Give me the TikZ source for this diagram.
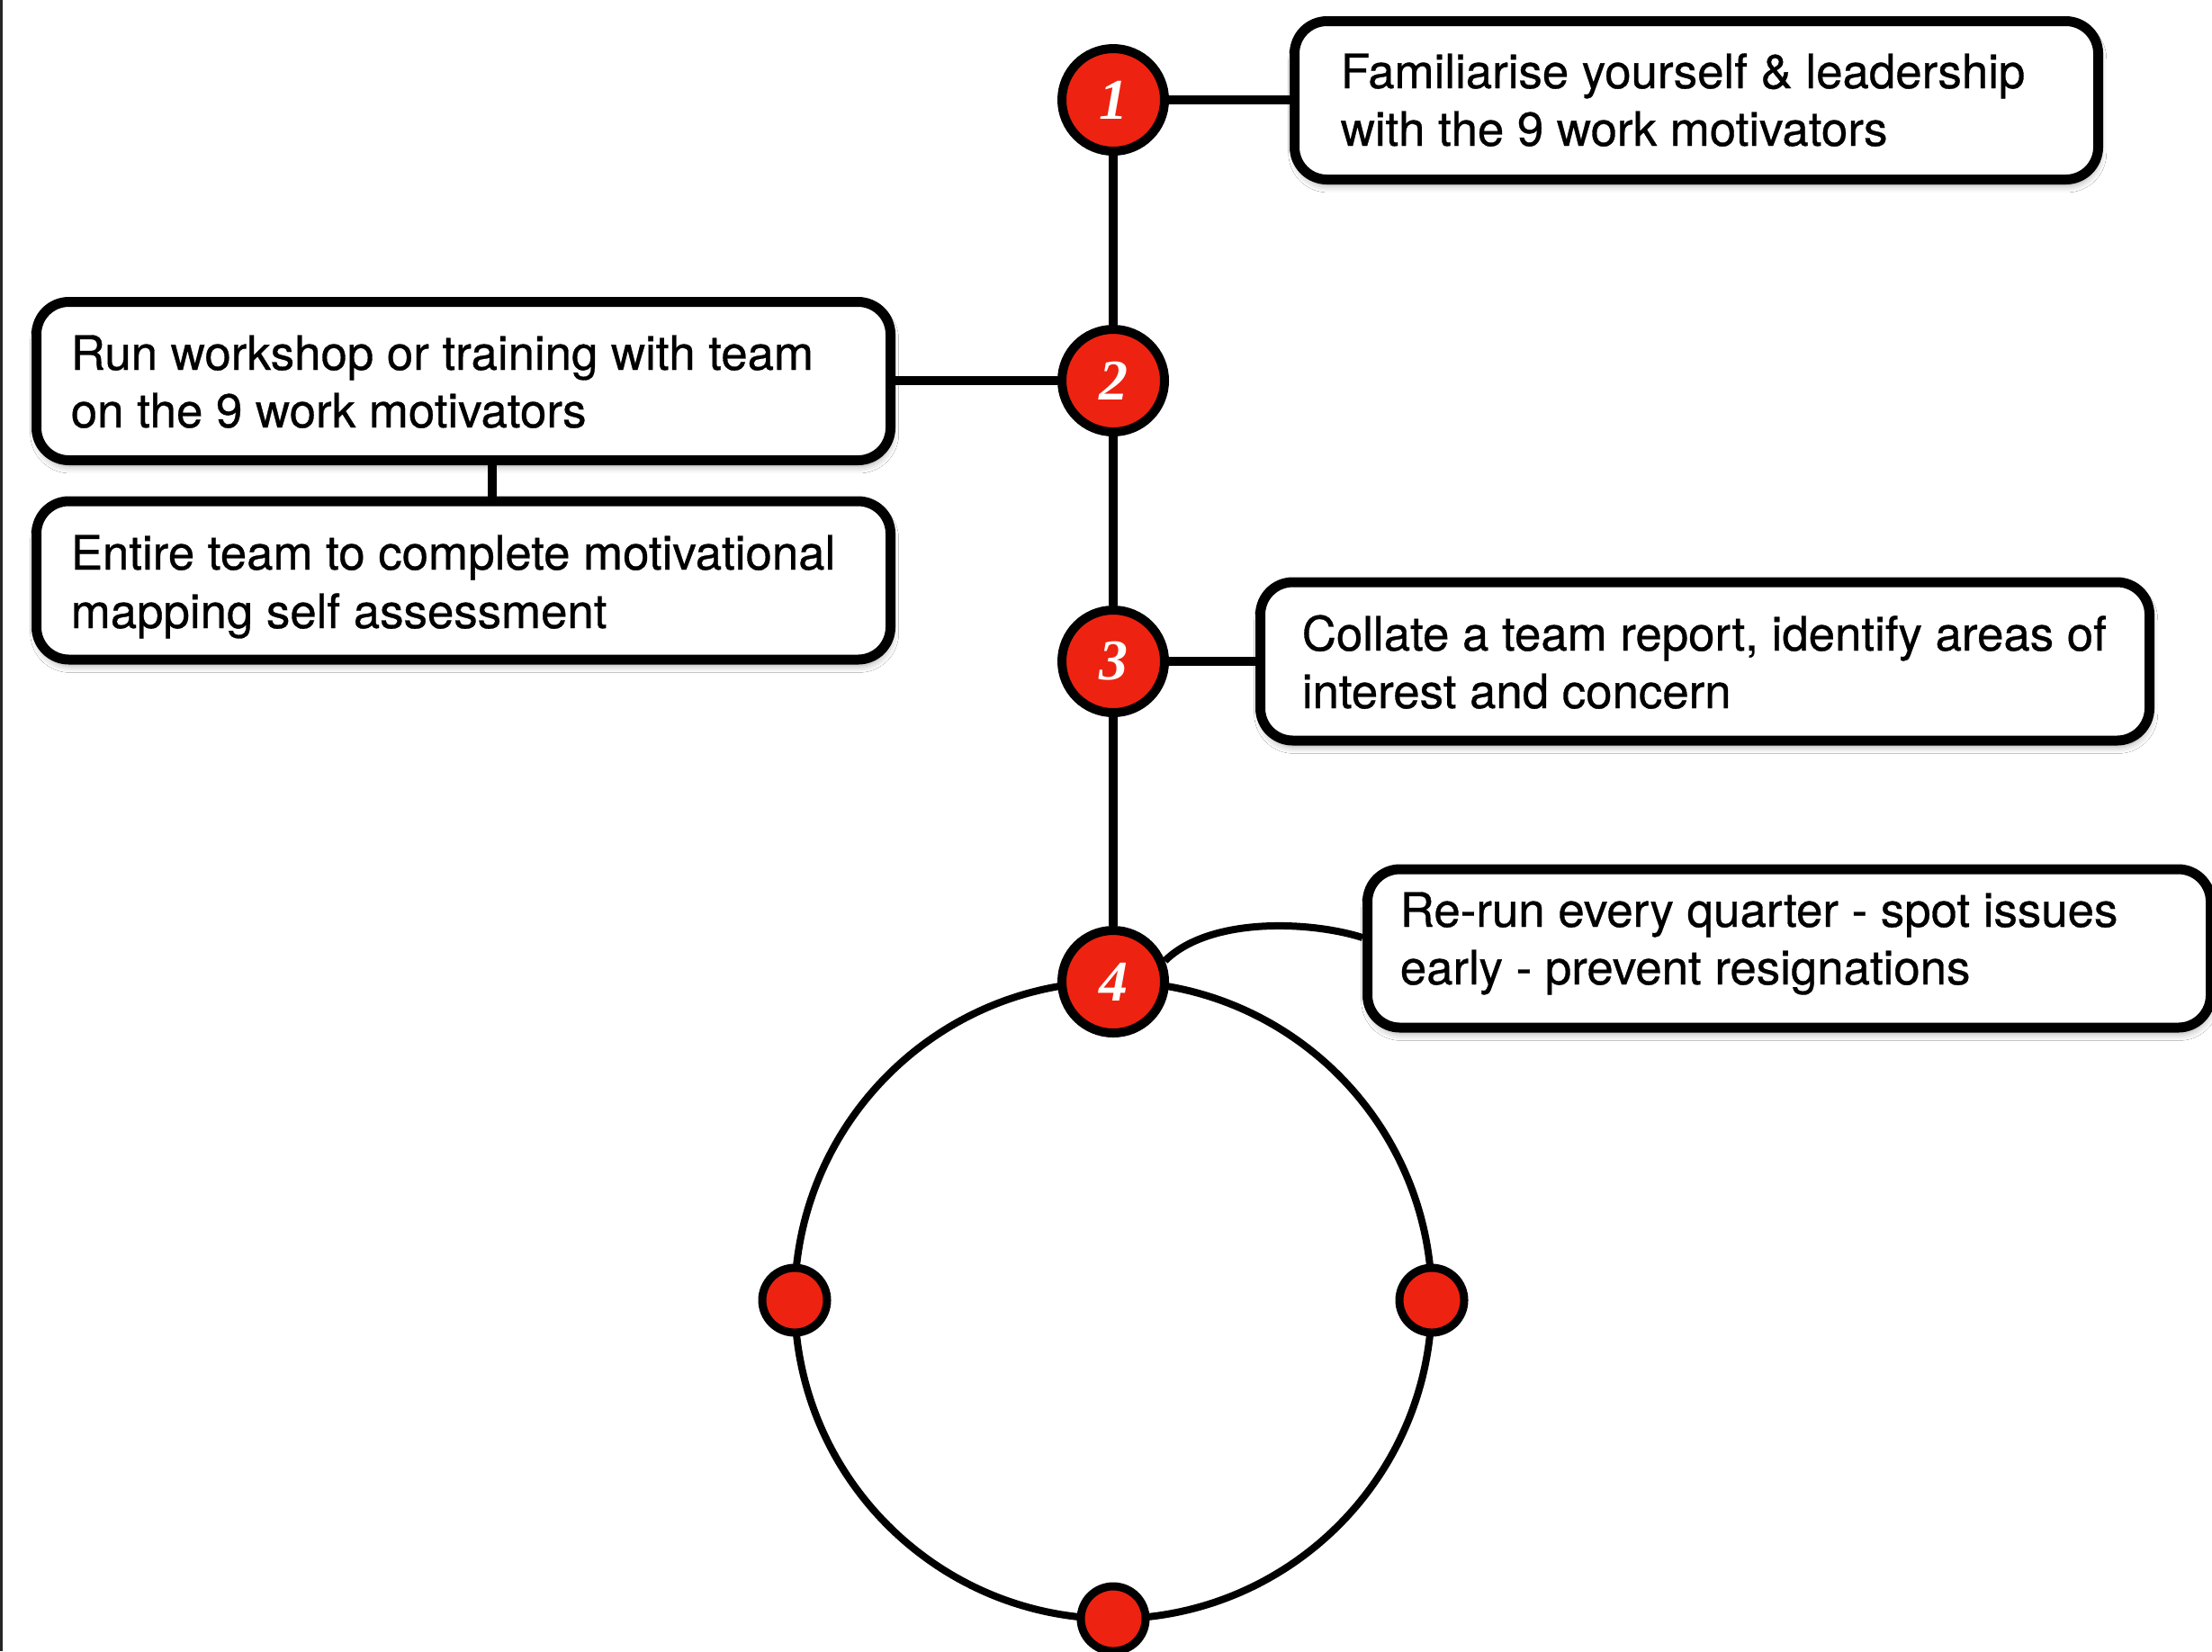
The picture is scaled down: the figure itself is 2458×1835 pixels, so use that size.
\documentclass[tikz,border=0pt]{standalone}
\usepackage{fontspec}
\setmainfont{TeX Gyre Heros}[FakeBold=0.6]
\newfontfamily\numfont{Liberation Serif}
\usetikzlibrary{shadows.blur}
\definecolor{dotred}{RGB}{238,34,16}
\pgfdeclarelayer{bg}
\pgfsetlayers{bg,main}
\tikzset{
  numcirc/.style={circle, draw=black, fill=dotred, line width=2.5pt, minimum size=28.5pt, inner sep=0pt,
     font=\numfont\bfseries\itshape\fontsize{16}{16}\selectfont, text=white},
  smalldot/.style={circle, draw=black, fill=dotred, line width=2.25pt, minimum size=18pt, inner sep=0pt},
  stepbox/.style={draw=black, fill=white, line width=2.75pt, rounded corners=9pt, minimum height=44pt, inner sep=0pt,
     blur shadow={shadow xshift=0.3pt, shadow yshift=-1.6pt, shadow blur radius=2pt, shadow opacity=35}},
  conn/.style={line width=2.5pt, black},
  thinconn/.style={line width=2pt, black},
  boxtext/.style={anchor=base west, inner sep=0pt, font=\fontsize{13.2}{16}\selectfont},
}
\begin{document}
\begin{tikzpicture}[x=0.25pt, y=-0.25pt]
\useasboundingbox (0,0) rectangle (2458,1835);

% loop circle
\node[circle, draw=black, line width=2pt, minimum size=177pt, inner sep=0pt, outer sep=0pt] (loop) at (1237,1445) {};

% boxes
\node[stepbox, minimum width=223.25pt] (b1) at (1885,111.5) {};
\node[stepbox, minimum width=237.25pt] (b2) at (515,423.5) {};
\node[stepbox, minimum width=237.25pt] (b2b) at (515,645) {};
\node[stepbox, minimum width=247pt] (b3) at (1894.5,735) {};
\node[stepbox, minimum width=234.25pt] (b4) at (1988,1054) {};

% texts
\node[boxtext] (t1a) at (1489,98) {Familiarise yourself \& leadership};
\node[boxtext] (t1b) at (1489,162) {with the 9 work motivators};
\node[boxtext] (t2a) at (78,411) {Run workshop or training with team};
\node[boxtext] (t2b) at (78,475) {on the 9 work motivators};
\node[boxtext] (t5a) at (78,633) {Entire team to complete motivational};
\node[boxtext] (t5b) at (78,698) {mapping self assessment};
\node[boxtext] (t3a) at (1446,723) {Collate a team report, identify areas of};
\node[boxtext] (t3b) at (1446,787) {interest and concern};
\node[boxtext] (t4a) at (1555,1030) {Re-run every quarter - spot issues};
\node[boxtext] (t4b) at (1555,1094) {early - prevent resignations};

% numbered circles
\node[numcirc] (c1) at (1237,111) {1};
\node[numcirc] (c2) at (1237,423) {2};
\node[numcirc] (c3) at (1237,735) {3};
\node[numcirc] (c4) at (loop.north) {4};

% dots on loop
\node[smalldot] (d1) at (loop.west) {};
\node[smalldot] (d2) at (loop.east) {};
\node[smalldot] (d3) at (loop.south) {};

\coordinate (b4in) at ([yshift=3pt]b4.west);

\begin{pgfonlayer}{bg}
\fill[white] (0,0) rectangle (2458,1835);
\fill[black!85] (0,0) rectangle (3,1835);
\draw[conn] (c1) -- (c2) -- (c3) -- (c4);
\draw[conn] (c1) -- (c1 -| b1.west);
\draw[conn] (c2) -- (c2 -| b2.east);
\draw[conn] (c3) -- (c3 -| b3.west);
\draw[conn] ([xshift=8pt]b2.south) -- ([xshift=8pt]b2b.north);
\draw[thinconn] (c4.22) .. controls (1345,1018) and (1458,1024) .. (b4in);
\end{pgfonlayer}
\end{tikzpicture}
\end{document}
